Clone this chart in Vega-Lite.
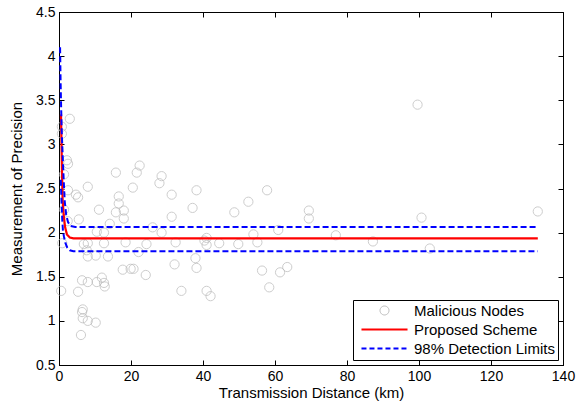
{
  "$schema": "https://vega.github.io/schema/vega-lite/v6.json",
  "width": 504,
  "height": 353,
  "autosize": {"type": "none"},
  "padding": {"left": 59, "top": 12, "right": 14, "bottom": 38},
  "config": {
    "font": "Liberation Sans",
    "view": {"stroke": "black", "strokeWidth": 1},
    "axis": {"grid": false, "domainColor": "black", "tickColor": "black", "labelColor": "black", "titleColor": "black", "labelFontSize": 14, "titleFontSize": 15, "titleFontWeight": "normal", "tickSize": -5, "labelPadding": 9, "labelFlush": false},
    "legend": {
      "orient": "bottom-right", "offset": 5, "title": null,
      "fillColor": "white", "strokeColor": "black",
      "padding": 3, "rowPadding": 3,
      "symbolType": "M-3.07,0L3.07,0", "symbolSize": 225, "symbolStrokeWidth": 2, "symbolOffset": 21,
      "labelFontSize": 15, "labelColor": "black", "labelOffset": 22, "labelLimit": 300
    }
  },
  "datasets": {
    "nodes": [
      {"x": 3.0, "y": 3.29}, {"x": 0.8, "y": 3.2}, {"x": 0.8, "y": 3.12}, {"x": 2.2, "y": 2.82}, {"x": 2.5, "y": 2.78},
      {"x": 1.4, "y": 2.66}, {"x": 15.8, "y": 2.68}, {"x": 22.4, "y": 2.76}, {"x": 21.6, "y": 2.68}, {"x": 8.0, "y": 2.52},
      {"x": 20.5, "y": 2.51}, {"x": 2.5, "y": 2.48}, {"x": 4.7, "y": 2.43}, {"x": 5.3, "y": 2.4}, {"x": 16.6, "y": 2.41},
      {"x": 16.6, "y": 2.33}, {"x": 11.1, "y": 2.26}, {"x": 18.0, "y": 2.25}, {"x": 15.8, "y": 2.23}, {"x": 1.4, "y": 2.26},
      {"x": 5.5, "y": 2.15}, {"x": 18.0, "y": 2.16}, {"x": 14.1, "y": 2.1}, {"x": 2.4, "y": 2.13}, {"x": 0.9, "y": 1.88},
      {"x": 6.9, "y": 1.87}, {"x": 8.0, "y": 1.88}, {"x": 7.7, "y": 1.8}, {"x": 8.0, "y": 1.73}, {"x": 10.2, "y": 1.74},
      {"x": 12.5, "y": 1.88}, {"x": 13.6, "y": 1.73}, {"x": 18.5, "y": 1.89}, {"x": 24.3, "y": 1.87}, {"x": 22.1, "y": 1.78},
      {"x": 10.5, "y": 2.01}, {"x": 12.5, "y": 2.0}, {"x": 17.7, "y": 1.58}, {"x": 19.9, "y": 1.59}, {"x": 20.7, "y": 1.59},
      {"x": 24.1, "y": 1.52}, {"x": 6.4, "y": 1.46}, {"x": 8.0, "y": 1.44}, {"x": 10.5, "y": 1.44}, {"x": 11.9, "y": 1.49},
      {"x": 12.5, "y": 1.43}, {"x": 12.7, "y": 1.39}, {"x": 0.6, "y": 1.34}, {"x": 5.3, "y": 1.33}, {"x": 6.6, "y": 1.13},
      {"x": 6.4, "y": 1.1}, {"x": 6.6, "y": 1.03}, {"x": 8.0, "y": 1.0}, {"x": 10.2, "y": 0.98}, {"x": 6.1, "y": 0.84},
      {"x": 28.5, "y": 2.64}, {"x": 27.9, "y": 2.56}, {"x": 31.3, "y": 2.43}, {"x": 38.2, "y": 2.48}, {"x": 37.1, "y": 2.28},
      {"x": 31.3, "y": 2.18}, {"x": 48.7, "y": 2.23}, {"x": 52.6, "y": 2.35}, {"x": 57.8, "y": 2.48}, {"x": 26.0, "y": 2.06},
      {"x": 28.5, "y": 2.0}, {"x": 32.4, "y": 1.89}, {"x": 41.0, "y": 1.94}, {"x": 40.4, "y": 1.91}, {"x": 41.0, "y": 1.86},
      {"x": 44.5, "y": 1.88}, {"x": 49.8, "y": 1.87}, {"x": 54.0, "y": 1.98}, {"x": 55.1, "y": 1.89}, {"x": 37.9, "y": 1.71},
      {"x": 38.2, "y": 1.6}, {"x": 32.1, "y": 1.64}, {"x": 56.4, "y": 1.57}, {"x": 34.0, "y": 1.34}, {"x": 41.0, "y": 1.34},
      {"x": 42.1, "y": 1.28}, {"x": 58.4, "y": 1.38}, {"x": 69.4, "y": 2.25}, {"x": 69.4, "y": 2.16}, {"x": 60.9, "y": 2.03},
      {"x": 76.9, "y": 1.97}, {"x": 87.2, "y": 1.9}, {"x": 61.4, "y": 1.55}, {"x": 63.4, "y": 1.61}, {"x": 99.6, "y": 3.45},
      {"x": 100.7, "y": 2.17}, {"x": 133.0, "y": 2.24}, {"x": 103.0, "y": 1.82}
    ],
    "curves": [
      {"series": "Proposed Scheme", "curve": "mid", "x": 0.55, "y": 3.34},
      {"series": "Proposed Scheme", "curve": "mid", "x": 0.7, "y": 3.0},
      {"series": "Proposed Scheme", "curve": "mid", "x": 0.85, "y": 2.65},
      {"series": "Proposed Scheme", "curve": "mid", "x": 1.0, "y": 2.38},
      {"series": "Proposed Scheme", "curve": "mid", "x": 1.3, "y": 2.2},
      {"series": "Proposed Scheme", "curve": "mid", "x": 1.7, "y": 2.06},
      {"series": "Proposed Scheme", "curve": "mid", "x": 2.2, "y": 1.98},
      {"series": "Proposed Scheme", "curve": "mid", "x": 3.0, "y": 1.945},
      {"series": "Proposed Scheme", "curve": "mid", "x": 4.0, "y": 1.935},
      {"series": "Proposed Scheme", "curve": "mid", "x": 133.0, "y": 1.935},
      {"series": "98% Detection Limits", "curve": "upper", "x": 0.3, "y": 4.1},
      {"series": "98% Detection Limits", "curve": "upper", "x": 0.45, "y": 3.7},
      {"series": "98% Detection Limits", "curve": "upper", "x": 0.55, "y": 3.5},
      {"series": "98% Detection Limits", "curve": "upper", "x": 0.75, "y": 3.15},
      {"series": "98% Detection Limits", "curve": "upper", "x": 1.0, "y": 2.9},
      {"series": "98% Detection Limits", "curve": "upper", "x": 1.3, "y": 2.6},
      {"series": "98% Detection Limits", "curve": "upper", "x": 1.6, "y": 2.35},
      {"series": "98% Detection Limits", "curve": "upper", "x": 2.0, "y": 2.2},
      {"series": "98% Detection Limits", "curve": "upper", "x": 2.5, "y": 2.12},
      {"series": "98% Detection Limits", "curve": "upper", "x": 3.2, "y": 2.075},
      {"series": "98% Detection Limits", "curve": "upper", "x": 4.5, "y": 2.063},
      {"series": "98% Detection Limits", "curve": "upper", "x": 133.0, "y": 2.063},
      {"series": "98% Detection Limits", "curve": "lower", "x": 0.5, "y": 2.6},
      {"series": "98% Detection Limits", "curve": "lower", "x": 0.7, "y": 2.35},
      {"series": "98% Detection Limits", "curve": "lower", "x": 0.9, "y": 2.15},
      {"series": "98% Detection Limits", "curve": "lower", "x": 1.1, "y": 2.02},
      {"series": "98% Detection Limits", "curve": "lower", "x": 1.4, "y": 1.95},
      {"series": "98% Detection Limits", "curve": "lower", "x": 1.8, "y": 1.88},
      {"series": "98% Detection Limits", "curve": "lower", "x": 2.3, "y": 1.83},
      {"series": "98% Detection Limits", "curve": "lower", "x": 3.0, "y": 1.8},
      {"series": "98% Detection Limits", "curve": "lower", "x": 4.0, "y": 1.79},
      {"series": "98% Detection Limits", "curve": "lower", "x": 133.0, "y": 1.79}
    ]
  },
  "layer": [
    {
      "data": {"name": "nodes"},
      "mark": {"type": "point", "shape": "circle", "filled": false, "size": 85, "strokeWidth": 1},
      "encoding": {
        "x": {"field": "x", "type": "quantitative", "scale": {"domain": [0, 140], "nice": false, "zero": false, "padding": 0},
              "axis": {"values": [0, 20, 40, 60, 80, 100, 120, 140], "title": "Transmission Distance (km)", "titlePadding": 2}},
        "y": {"field": "y", "type": "quantitative", "scale": {"domain": [0.5, 4.5], "nice": false, "zero": false, "padding": 0},
              "axis": {"values": [0.5, 1, 1.5, 2, 2.5, 3, 3.5, 4, 4.5], "format": ".1~f", "title": "Measurement of Precision", "titlePadding": 11}},
        "color": {"datum": "Malicious Nodes", "type": "nominal",
          "scale": {"domain": ["Malicious Nodes", "Proposed Scheme", "98% Detection Limits"], "range": ["#b9b9b9", "#ff0000", "#0000ff"]},
          "legend": {
            "title": null,
            "encode": {"symbols": {"update": {
              "shape": {"signal": "datum.value === 'Malicious Nodes' ? 'circle' : 'M-3.07,0L3.07,0'"},
              "size": {"signal": "datum.value === 'Malicious Nodes' ? 80 : 225"},
              "strokeWidth": {"signal": "datum.value === 'Malicious Nodes' ? 1 : 2"},
              "strokeDash": {"signal": "datum.value === '98% Detection Limits' ? [5, 3] : [1, 0]"}
            }}}
          }
        }
      }
    },
    {
      "data": {"name": "curves"},
      "transform": [{"filter": "datum.series === 'Proposed Scheme'"}],
      "mark": {"type": "line", "strokeWidth": 2.2},
      "encoding": {
        "x": {"field": "x", "type": "quantitative", "axis": null, "scale": {"domain": [0, 140], "nice": false, "zero": false, "padding": 0}},
        "y": {"field": "y", "type": "quantitative", "axis": null, "scale": {"domain": [0.5, 4.5], "nice": false, "zero": false, "padding": 0}},
        "color": {"field": "series", "type": "nominal",
          "legend": {
            "title": null,
            "encode": {"symbols": {"update": {
              "shape": {"signal": "datum.value === 'Malicious Nodes' ? 'circle' : 'M-3.07,0L3.07,0'"},
              "size": {"signal": "datum.value === 'Malicious Nodes' ? 80 : 225"},
              "strokeWidth": {"signal": "datum.value === 'Malicious Nodes' ? 1 : 2"},
              "strokeDash": {"signal": "datum.value === '98% Detection Limits' ? [5, 3] : [1, 0]"}
            }}}
          }}
      }
    },
    {
      "data": {"name": "curves"},
      "transform": [{"filter": "datum.series === '98% Detection Limits'"}],
      "mark": {"type": "line", "strokeWidth": 2, "strokeDash": [6, 3]},
      "encoding": {
        "x": {"field": "x", "type": "quantitative", "scale": {"domain": [0, 140], "nice": false, "zero": false, "padding": 0},
              "axis": {"orient": "top", "values": [0, 20, 40, 60, 80, 100, 120, 140], "labels": false, "title": null}},
        "y": {"field": "y", "type": "quantitative", "scale": {"domain": [0.5, 4.5], "nice": false, "zero": false, "padding": 0},
              "axis": {"orient": "right", "values": [0.5, 1, 1.5, 2, 2.5, 3, 3.5, 4, 4.5], "labels": false, "title": null}},
        "color": {"field": "series", "type": "nominal",
          "legend": {
            "title": null,
            "encode": {"symbols": {"update": {
              "shape": {"signal": "datum.value === 'Malicious Nodes' ? 'circle' : 'M-3.07,0L3.07,0'"},
              "size": {"signal": "datum.value === 'Malicious Nodes' ? 80 : 225"},
              "strokeWidth": {"signal": "datum.value === 'Malicious Nodes' ? 1 : 2"},
              "strokeDash": {"signal": "datum.value === '98% Detection Limits' ? [5, 3] : [1, 0]"}
            }}}
          }},
        "detail": {"field": "curve", "type": "nominal"}
      }
    }
  ],
  "resolve": {"axis": {"x": "independent", "y": "independent"}}
}
